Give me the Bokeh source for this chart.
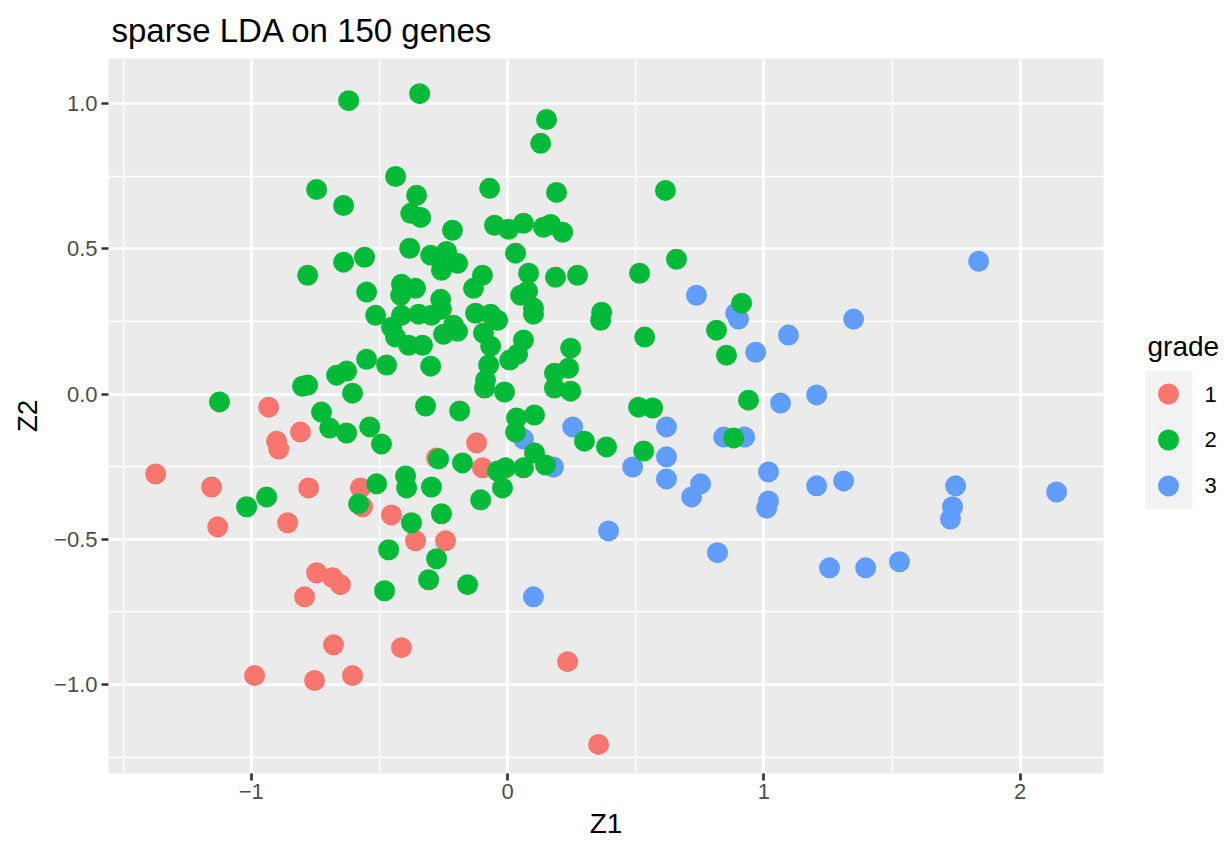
from bokeh.plotting import figure
from bokeh.models import Range1d, FixedTicker, CustomJSTickFormatter
from bokeh.layouts import row
from bokeh.core.properties import value
from bokeh.embed import file_html
from bokeh.resources import INLINE

title_text = "sparse LDA on 150 genes"
x_title = "Z1"
y_title = "Z2"
legend_title = "grade"
grades = ["1", "2", "3"]
colors = ["#F8766D", "#00BA38", "#619CFF"]

x_limits = [-1.557, 2.325]
y_limits = [-1.306, 1.155]
x_ticks = [-1, 0, 1, 2]
x_tick_labels = ["\u22121", "0", "1", "2"]
x_minor = [-1.5, -0.5, 0.5, 1.5]
y_ticks = [-1.0, -0.5, 0.0, 0.5, 1.0]
y_tick_labels = ["\u22121.0", "\u22120.5", "0.0", "0.5", "1.0"]
y_minor = [-1.25, -0.75, -0.25, 0.25, 0.75]

# grade 1
x1 = [-1.373, -1.155, -1.131, -0.932, -0.901, -0.893, -0.808, -0.776, -0.858, -0.574,
      -0.566, -0.453, -0.359, -0.277, -0.242, -0.745, -0.683, -0.652, -0.792, -0.679,
      -0.414, -0.987, -0.753, -0.605, -0.121, -0.098, 0.234, 0.355]
y1 = [-0.275, -0.320, -0.457, -0.045, -0.162, -0.189, -0.131, -0.323, -0.443, -0.323,
      -0.388, -0.416, -0.505, -0.220, -0.505, -0.615, -0.632, -0.656, -0.698, -0.863,
      -0.873, -0.969, -0.986, -0.969, -0.168, -0.254, -0.921, -1.206]

# grade 2
x2 = [-0.620, -0.343, -0.437, -0.745, -0.640, -0.355, -0.378, -0.339, -0.215, -0.382,
      -0.300, -0.238, -0.258, -0.640, -0.558, -0.780, -0.550, -0.414, -0.359, -0.417,
      -0.261, -0.515, -0.414, -0.347, -0.297, -0.258, -0.453, -0.437, -0.386, -0.332,
      -0.250, -0.550, -0.472, -0.300, -0.667, -0.628, -0.800, -0.780, -0.605, -1.124,
      -0.320, -0.726, -0.694, -0.628, -0.538, 0.152, 0.129, -0.070, 0.191, 0.616,
      -0.051, 0.004, 0.062, 0.140, 0.168, 0.215, -0.195, 0.031, -0.098, -0.133,
      0.082, 0.187, 0.273, 0.515, 0.659, 0.051, 0.078, 0.101, 0.101, 0.367,
      0.363, -0.125, -0.066, -0.039, -0.211, -0.195, -0.094, -0.066, 0.062, 0.039,
      0.008, 0.246, 0.535, 0.815, 0.854, 0.913, -0.074, -0.086, -0.090, -0.012,
      0.183, 0.238, 0.183, 0.246, 0.940, 0.511, 0.566, -0.187, 0.035, 0.105,
      -0.492, -0.269, -0.511, -0.398, -0.394, -0.297, -1.018, -0.940, -0.581, -0.375,
      -0.258, -0.464, -0.277, -0.308, -0.480, 0.031, -0.176, -0.039, -0.008, 0.062,
      0.105, 0.148, -0.020, -0.105, -0.156, 0.300, 0.386, 0.531, 0.882]
y2 = [1.010, 1.034, 0.749, 0.704, 0.649, 0.684, 0.622, 0.608, 0.564, 0.502,
      0.478, 0.491, 0.426, 0.454, 0.471, 0.409, 0.351, 0.378, 0.364, 0.340,
      0.326, 0.271, 0.271, 0.275, 0.271, 0.292, 0.230, 0.196, 0.168, 0.168,
      0.206, 0.120, 0.100, 0.096, 0.065, 0.079, 0.027, 0.031, 0.003, -0.027,
      -0.041, -0.062, -0.117, -0.134, -0.113, 0.945, 0.863, 0.708, 0.694, 0.701,
      0.581, 0.567, 0.588, 0.574, 0.584, 0.557, 0.450, 0.485, 0.409, 0.364,
      0.416, 0.402, 0.409, 0.416, 0.464, 0.340, 0.354, 0.296, 0.275, 0.282,
      0.254, 0.278, 0.275, 0.254, 0.237, 0.216, 0.210, 0.165, 0.186, 0.137,
      0.117, 0.158, 0.196, 0.220, 0.134, 0.313, 0.100, 0.048, 0.021, 0.007,
      0.072, 0.089, 0.021, 0.010, -0.021, -0.045, -0.048, -0.058, -0.082, -0.072,
      -0.172, -0.223, -0.309, -0.282, -0.323, -0.320, -0.388, -0.354, -0.378, -0.443,
      -0.412, -0.536, -0.567, -0.639, -0.677, -0.131, -0.237, -0.265, -0.254, -0.254,
      -0.203, -0.244, -0.323, -0.364, -0.656, -0.162, -0.182, -0.196, -0.151]

# grade 3
x3 = [0.737, 0.890, 0.901, 0.968, 1.096, 1.350, 1.838, 1.065, 1.206, 0.254,
      0.062, 0.620, 0.179, 0.488, 0.620, 0.620, 0.753, 0.718, 0.843, 0.925,
      1.018, 1.018, 1.011, 0.394, 0.819, 0.101, 1.206, 1.311, 1.748, 1.736,
      1.728, 2.142, 1.256, 1.397, 1.529]
y3 = [0.340, 0.278, 0.258, 0.144, 0.203, 0.258, 0.457, -0.031, -0.003, -0.113,
      -0.155, -0.113, -0.251, -0.251, -0.216, -0.292, -0.309, -0.354, -0.148, -0.148,
      -0.268, -0.368, -0.392, -0.471, -0.546, -0.698, -0.316, -0.299, -0.316, -0.388,
      -0.430, -0.337, -0.598, -0.598, -0.577]

FONT = "Liberation Sans"

H = 843
TOP, BOT = 57, 70
p = figure(width=1108, height=H, output_backend="svg", toolbar_location=None,
           x_range=Range1d(*x_limits), y_range=Range1d(*y_limits),
           min_border_left=108, min_border_right=5, min_border_top=TOP, min_border_bottom=BOT,
           title=title_text)
p.background_fill_color = "#EBEBEB"
p.border_fill_color = "white"
p.outline_line_color = None

p.title.text_font = FONT
p.title.text_font_size = "33px"
p.title.text_font_style = "normal"
p.title.text_color = "black"
p.title.align = "left"
p.title.offset = 3
p.title.standoff = 19

JS = """
const i = tv.findIndex(t => Math.abs(t - tick) < 1e-9);
return i >= 0 ? tl[i] : '';
"""
p.xaxis.ticker = FixedTicker(ticks=x_ticks, minor_ticks=x_minor)
p.yaxis.ticker = FixedTicker(ticks=y_ticks, minor_ticks=y_minor)
p.xaxis.formatter = CustomJSTickFormatter(args=dict(tv=x_ticks, tl=x_tick_labels), code=JS)
p.yaxis.formatter = CustomJSTickFormatter(args=dict(tv=y_ticks, tl=y_tick_labels), code=JS)

p.xaxis.axis_label = x_title
p.yaxis.axis_label = y_title
for ax in (p.xaxis, p.yaxis):
    ax.axis_line_color = None
    ax.major_tick_line_color = "#333333"
    ax.major_tick_line_width = 2.7
    ax.major_tick_out = 7
    ax.major_tick_in = 0
    ax.minor_tick_line_color = None
    ax.major_label_text_font = FONT
    ax.major_label_text_font_size = "22px"
    ax.major_label_text_color = "#4D4D4D"
    ax.axis_label_text_font = FONT
    ax.axis_label_text_font_size = "28px"
    ax.axis_label_text_font_style = "normal"
    ax.axis_label_text_color = "black"
p.xaxis.major_label_standoff = 3
p.xaxis.axis_label_standoff = 6
p.yaxis.major_label_standoff = 4
p.yaxis.axis_label_standoff = 8

p.grid.grid_line_color = "white"
p.grid.grid_line_width = 2.7
p.grid.minor_grid_line_color = "white"
p.grid.minor_grid_line_width = 1.35

p.scatter(x3, y3, size=21, fill_color=colors[2], line_color=None)
p.scatter(x1, y1, size=21, fill_color=colors[0], line_color=None)
p.scatter(x2, y2, size=21, fill_color=colors[1], line_color=None)

# legend panel (frame aligned with the main panel; y data = page pixels)
LW = 1227 - 1108
lg = figure(width=LW, height=H, output_backend="svg", toolbar_location=None,
            x_range=Range1d(0, LW), y_range=Range1d(H - BOT, TOP),
            x_axis_type=None, y_axis_type=None,
            min_border_left=0, min_border_right=0, min_border_top=TOP, min_border_bottom=BOT)
lg.grid.visible = False
lg.outline_line_color = None
lg.background_fill_color = "white"
lg.border_fill_color = "white"
key_y = [393, 439, 485]
lg.quad(left=37, right=84, top=370, bottom=508, fill_color="#F2F2F2", line_color=None)
lg.scatter([60] * len(grades), key_y, size=21, fill_color=colors, line_color=None)
lg.text([96] * len(grades), key_y, text=grades, text_baseline="middle", text_align="left",
        text_font=value(FONT), text_font_size="22px", text_color="black")
lg.text([39], [345], text=[legend_title], text_baseline="middle", text_align="left",
        text_font=value(FONT), text_font_size="28px", text_color="black")

layout = row(p, lg)
open("out.html", "w").write(file_html(layout, INLINE))
